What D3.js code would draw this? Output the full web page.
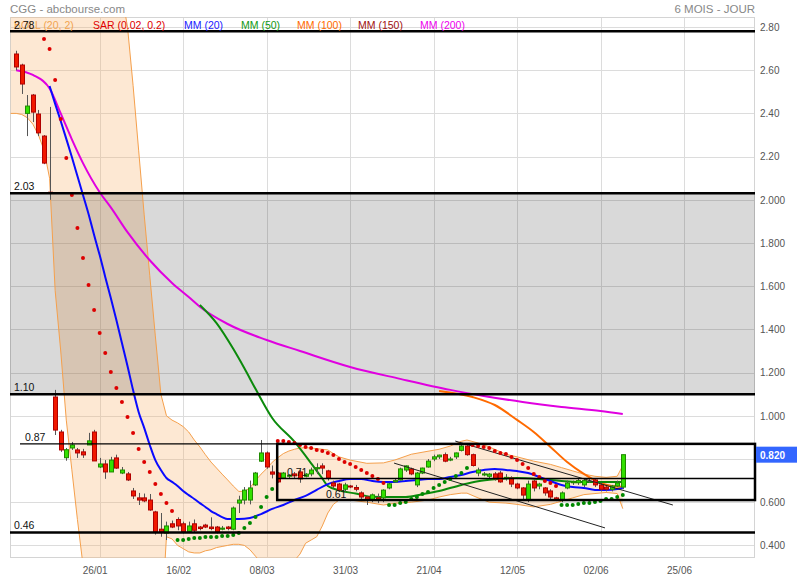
<!DOCTYPE html>
<html><head><meta charset="utf-8">
<script src="https://cdn.jsdelivr.net/npm/d3@7"></script>
<style>body{margin:0;background:#fff}svg{display:block;font-family:"Liberation Sans",Arial,sans-serif}</style>
</head><body><svg id="c" width="800" height="580"></svg>
<script>
// ---------- DATA ----------
const openP  = [2.675,2.624,2.40,2.485,2.397,2.295,2.035,1.087,0.925,0.806,0.851,0.842,0.833,0.865,0.925,0.763,0.777,0.740,0.805,0.735,0.731,0.652,0.62,0.62,0.61,0.555,0.475,0.457,0.50,0.52,0.50,0.465,0.50,0.485,0.494,0.485,0.485,0.475,0.485,0.475,0.596,0.61,0.61,0.68,0.79,0.828,0.74,0.735,0.712,0.72,0.731,0.74,0.72,0.731,0.755,0.768,0.745,0.689,0.684,0.66,0.675,0.668,0.643,0.624,0.61,0.62,0.62,0.666,0.694,0.703,0.749,0.754,0.68,0.735,0.763,0.80,0.81,0.82,0.795,0.81,0.84,0.86,0.82,0.735,0.726,0.72,0.731,0.735,0.71,0.712,0.684,0.666,0.61,0.698,0.675,0.666,0.652,0.62,0.61,0.666,0.69,0.69,0.68,0.70,0.703,0.68,0.67,0.66,0.675,0.67];
const highP  = [2.69,2.63,2.485,2.49,2.416,2.30,2.43,1.12,0.935,0.851,0.879,0.851,0.847,0.921,0.935,0.805,0.795,0.81,0.82,0.763,0.74,0.666,0.643,0.64,0.638,0.56,0.55,0.51,0.515,0.53,0.51,0.51,0.52,0.49,0.50,0.53,0.49,0.49,0.49,0.58,0.63,0.67,0.70,0.74,0.888,0.835,0.77,0.74,0.74,0.73,0.74,0.75,0.735,0.76,0.78,0.78,0.75,0.70,0.69,0.69,0.68,0.68,0.65,0.63,0.64,0.64,0.66,0.69,0.71,0.76,0.77,0.76,0.74,0.76,0.80,0.82,0.82,0.83,0.81,0.83,0.865,0.87,0.825,0.76,0.74,0.735,0.74,0.745,0.73,0.72,0.69,0.67,0.70,0.71,0.69,0.67,0.66,0.625,0.65,0.70,0.70,0.71,0.71,0.71,0.71,0.69,0.68,0.68,0.70,0.82];
const lowP   = [2.60,2.49,2.295,2.36,2.295,2.165,2.00,0.911,0.833,0.792,0.842,0.805,0.805,0.865,0.791,0.758,0.708,0.74,0.754,0.73,0.698,0.615,0.587,0.60,0.56,0.45,0.44,0.425,0.48,0.47,0.455,0.46,0.46,0.47,0.48,0.47,0.455,0.47,0.47,0.47,0.55,0.59,0.59,0.675,0.786,0.755,0.71,0.69,0.71,0.71,0.71,0.69,0.715,0.72,0.73,0.73,0.70,0.665,0.65,0.65,0.665,0.65,0.615,0.587,0.60,0.596,0.60,0.66,0.69,0.70,0.74,0.725,0.67,0.73,0.76,0.79,0.80,0.785,0.79,0.80,0.835,0.815,0.765,0.72,0.72,0.71,0.70,0.69,0.70,0.67,0.66,0.61,0.60,0.65,0.66,0.63,0.61,0.605,0.60,0.66,0.68,0.68,0.67,0.69,0.67,0.65,0.65,0.65,0.67,0.66];
const closeP = [2.615,2.536,2.434,2.406,2.31,2.17,2.03,0.934,0.842,0.843,0.865,0.828,0.819,0.884,0.791,0.777,0.740,0.795,0.758,0.749,0.703,0.629,0.61,0.606,0.564,0.462,0.462,0.49,0.485,0.49,0.462,0.49,0.47,0.478,0.485,0.478,0.462,0.48,0.478,0.573,0.61,0.656,0.666,0.735,0.828,0.763,0.73,0.694,0.735,0.725,0.722,0.708,0.73,0.749,0.76,0.758,0.712,0.675,0.656,0.68,0.672,0.66,0.624,0.61,0.634,0.61,0.656,0.685,0.70,0.754,0.768,0.731,0.735,0.758,0.79,0.81,0.818,0.79,0.80,0.828,0.86,0.82,0.77,0.749,0.731,0.73,0.708,0.694,0.715,0.684,0.666,0.633,0.684,0.666,0.684,0.643,0.624,0.61,0.643,0.689,0.695,0.70,0.70,0.70,0.68,0.66,0.66,0.675,0.689,0.82];

// Parabolic SAR, from day index 5
const sarStart = 5;
const sarValues = [2.744,2.698,2.555,2.374,2.194,2.022,1.869,1.731,1.606,1.49,1.383,1.291,1.203,1.129,1.064,0.994,0.920,0.846,0.786,0.740,0.684,0.638,0.596,0.559,
  0.425,0.425,0.430,0.434,0.434,0.439,0.439,0.439,0.444,0.444,0.448,0.457,0.481,0.504,0.531,0.578,0.624,0.661,
  0.883,0.883,0.879,0.874,0.865,0.856,0.851,0.842,0.837,0.828,0.819,0.800,0.786,0.777,0.763,0.749,0.735,0.721,0.707,0.689,
  0.587,0.587,0.596,0.601,0.615,0.624,0.638,0.647,0.666,0.680,0.694,0.707,0.721,0.735,0.758,
  0.865,0.860,0.856,0.851,0.837,0.828,0.823,0.809,0.795,0.777,0.758,0.731,0.717,0.698,0.689,0.675,
  0.587,0.587,0.587,0.592,0.596,0.596,0.601,0.606,0.615,0.615,0.624,0.633];

// Bollinger (20, 2)
const bbIdx   = [-1,0,1,2,3,4,5,6,7,8,9,10,11,12,13,15,19,20,21,22,23,24,25,26,27,28,29,30,31,32,33,34,35,36,37,38,39,40,41,42,43,44,45,46,47,48,49,50,51,52,53,54,55,56,57,58,60,63,66,68,71,74,76,78,80,81,83,85,88,90,93,96,98,100,102,104,106,108,109];
const bbUpper = [3.05,3.05,3.05,3.05,3.05,3.05,3.05,3.05,3.05,3.05,3.05,3.05,3.05,3.05,3.05,3.05,2.95,2.80,2.53,2.23,1.93,1.65,1.37,1.10,1.00,0.98,0.967,0.95,0.925,0.888,0.856,0.82,0.786,0.758,0.73,0.703,0.675,0.65,0.65,0.666,0.70,0.73,0.755,0.785,0.806,0.825,0.837,0.845,0.851,0.852,0.851,0.848,0.845,0.842,0.825,0.81,0.795,0.78,0.782,0.795,0.822,0.836,0.845,0.86,0.882,0.888,0.874,0.856,0.822,0.81,0.79,0.775,0.76,0.745,0.73,0.72,0.715,0.72,0.77];
const bbLower = [2.40,2.40,2.395,2.38,2.35,2.30,2.23,2.10,1.58,1.30,0.98,0.75,0.52,0.31,0.15,0.0,0.0,0.0,0.0,0.0,0.0,0.0,0.0,0.0,0.44,0.43,0.40,0.385,0.37,0.365,0.365,0.375,0.38,0.39,0.395,0.40,0.405,0.405,0.40,0.38,0.35,0.32,0.30,0.29,0.29,0.30,0.31,0.33,0.36,0.41,0.425,0.44,0.49,0.55,0.59,0.61,0.61,0.60,0.587,0.595,0.60,0.61,0.624,0.635,0.642,0.642,0.62,0.60,0.596,0.59,0.578,0.59,0.605,0.62,0.635,0.64,0.645,0.64,0.57];

// Moving averages
const mm20Idx = [6,7,8,9,10,11,12,13,14,15,16,17,18,19,20,21,22,23,24,25,26,27,28,29,30,31,32,33,34,35,36,37,38,40,42,44,46,48,50,52,54,56,58,60,62,64,66,68,70,72,74,76,78,80,82,84,86,88,90,92,94,96,98,100,102,104,106,108,109];
const mm20Val = [2.527,2.444,2.365,2.282,2.198,2.110,2.022,1.934,1.837,1.744,1.643,1.545,1.444,1.337,1.231,1.119,1.018,0.944,0.865,0.795,0.749,0.712,0.694,0.675,0.652,0.633,0.615,0.596,0.578,0.559,0.545,0.531,0.522,0.522,0.527,0.545,0.569,0.587,0.610,0.629,0.657,0.684,0.698,0.707,0.707,0.698,0.694,0.694,0.698,0.703,0.707,0.707,0.717,0.726,0.740,0.749,0.754,0.749,0.744,0.735,0.717,0.698,0.680,0.670,0.666,0.657,0.657,0.661,0.666];
const mm50Idx = [33,36,39,41,43,46,50,53,55,56,58,61,64,67,70,73,76,80,83,86,90,94,98,101,105,109];
const mm50Val = [1.513,1.429,1.31,1.22,1.125,0.99,0.88,0.78,0.71,0.675,0.655,0.64,0.625,0.624,0.624,0.637,0.652,0.68,0.697,0.706,0.712,0.707,0.698,0.694,0.694,0.694];
const mm100Idx = [76,82,86,90,93,96,99,102,105,107,109];
const mm100Val = [1.115,1.087,1.05,0.981,0.925,0.856,0.786,0.731,0.689,0.675,0.671];
const mm200Idx = [0,3,6,8,10,12,15,17,20,24,28,31,33,38,45,51,60,69,78,84,91,98,105,109];
const mm200Val = [2.60,2.578,2.515,2.40,2.28,2.17,2.035,1.965,1.85,1.72,1.615,1.55,1.505,1.425,1.351,1.30,1.226,1.171,1.12,1.092,1.064,1.041,1.022,1.008];

// Drawn support / resistance levels
const levelVals   = [2.78, 2.03, 1.10, 0.87, 0.71, 0.61, 0.46];
const levelLabels = ["2.78","2.03","1.10","0.87","0.71","0.61","0.46"];
// trend channels: [startIdx, startVal, endIdx, endVal]
const trendLines = [[78.9,0.883,118,0.587],[67.9,0.781,105.8,0.481]];

// Axes
const xTickIdx    = [15,30,45,60,75,90,105,120];
const xTickLabels = ["26/01","16/02","08/03","31/03","21/04","12/05","02/06","25/06"];
const yTickVals   = [2.8,2.6,2.4,2.2,2.0,1.8,1.6,1.4,1.2,1.0,0.8,0.6,0.4];
const yTickLabels = ["2.80","2.60","2.40","2.20","2.000","1.800","1.600","1.400","1.200","1.000","0.800","0.600","0.400"];

const legendNames  = ["BOLL (20, 2)","SAR (0.02, 0.2)","MM (20)","MM (50)","MM (100)","MM (150)","MM (200)"];
const legendColors = ["#f2a450","#e00000","#1a1aff","#119911","#ff6a00","#a01010","#ee00ee"];

// ---------- CHART ----------
const svg = d3.select("#c");
const L = 10, R = 755, T = 17, B = 558;
const x = d3.scaleLinear().domain([0,120]).range([16.2, 684]);
const y = d3.scaleLinear().domain([0.4, 2.8]).range([545.4, 27]);

svg.append("defs").append("clipPath").attr("id","clip")
  .append("rect").attr("x",L).attr("y",T).attr("width",R-L).attr("height",B-T);

// header
svg.append("text").attr("x",10).attr("y",13).attr("font-size",11.5).attr("fill","#888").text("CGG - abcbourse.com");
svg.append("text").attr("x",755).attr("y",13).attr("text-anchor","end").attr("font-size",11.5).attr("fill","#888").text("6 MOIS - JOUR");

// grid
const grid = svg.append("g");
grid.selectAll("line.h").data(yTickVals).join("line")
  .attr("x1",L).attr("x2",R).attr("y1",d=>Math.round(y(d))+0.5).attr("y2",d=>Math.round(y(d))+0.5)
  .attr("stroke","#dcdcdc");
grid.selectAll("line.v").data(xTickIdx).join("line")
  .attr("x1",d=>Math.round(x(d))+0.5).attr("x2",d=>Math.round(x(d))+0.5).attr("y1",T).attr("y2",B)
  .attr("stroke","#dcdcdc");
svg.append("rect").attr("x",L+0.5).attr("y",T+0.5).attr("width",R-L-1).attr("height",B-T-1)
  .attr("fill","none").attr("stroke","#d4d4d4");

const plot = svg.append("g").attr("clip-path","url(#clip)");

// Bollinger fill
const bb = bbIdx.map((d,k)=>({i:d,u:bbUpper[k],l:bbLower[k]}));
plot.append("path").datum(bb)
  .attr("d", d3.area().x(d=>x(d.i)).y0(d=>y(d.l)).y1(d=>y(d.u)))
  .attr("fill","rgba(248,178,110,0.30)");

// gray zone
plot.append("rect").attr("x",L).attr("width",R-L).attr("y",y(2.03)).attr("height",y(1.10)-y(2.03))
  .attr("fill","rgba(0,0,0,0.15)");

// Bollinger lines
const bline = k=>d3.line().x(d=>x(d.i)).y(d=>y(d[k]));
plot.append("path").datum(bb).attr("d",bline("u")).attr("fill","none").attr("stroke","#f5a04c").attr("stroke-width",1);
plot.append("path").datum(bb).attr("d",bline("l")).attr("fill","none").attr("stroke","#f5a04c").attr("stroke-width",1);

// moving averages
function ma(idx, val, color){
  const pts = idx.map((d,k)=>[x(d), y(val[k])]);
  plot.append("path").attr("d", d3.line().curve(d3.curveMonotoneX)(pts))
    .attr("fill","none").attr("stroke",color).attr("stroke-width",2).attr("stroke-linejoin","round");
}
ma(mm200Idx, mm200Val, "#e000e0");
ma(mm100Idx, mm100Val, "#ff6a00");
ma(mm50Idx, mm50Val, "#0b8a0b");
ma(mm20Idx, mm20Val, "#0a0aff");

// candles
const cdl = openP.map((o,i)=>({i,o,h:highP[i],l:lowP[i],c:closeP[i]}));
const cg = plot.append("g");
cg.selectAll("line").data(cdl).join("line")
  .attr("x1",d=>Math.round(x(d.i))+0.5).attr("x2",d=>Math.round(x(d.i))+0.5)
  .attr("y1",d=>y(d.h)).attr("y2",d=>y(d.l)).attr("stroke","#555").attr("stroke-width",1);
cg.selectAll("rect").data(cdl).join("rect")
  .attr("x",d=>Math.round(x(d.i))-1.5).attr("width",4)
  .attr("y",d=>y(Math.max(d.o,d.c)))
  .attr("height",d=>Math.max(1, Math.abs(y(d.o)-y(d.c))))
  .attr("fill",d=>d.c>d.o?"#33e000":d.c<d.o?"#f01800":"#555")
  .attr("stroke",d=>d.c>d.o?"#1f8a00":d.c<d.o?"#b00000":"#555")
  .attr("stroke-width",d=>d.c===d.o?0:1);

// trend lines
plot.selectAll("line.tl").data(trendLines).join("line")
  .attr("x1",d=>x(d[0])).attr("y1",d=>y(d[1])).attr("x2",d=>x(d[2])).attr("y2",d=>y(d[3]))
  .attr("stroke","#222").attr("stroke-width",1);

// levels
const lv = svg.append("g");
const lvl = (v,x1,w)=>lv.append("line").attr("x1",x1).attr("x2",R).attr("y1",y(v)).attr("y2",y(v)).attr("stroke","#000").attr("stroke-width",w);
lvl(levelVals[0], L, 2.5);
lvl(levelVals[1], L, 2.5);
lvl(levelVals[2], L, 2.5);
lvl(levelVals[3], 20, 1.2);
lvl(levelVals[6], L, 2.5);
const boxX = x(46.9);
lv.append("rect").attr("x",boxX).attr("y",y(levelVals[3])).attr("width",R-boxX).attr("height",y(levelVals[5])-y(levelVals[3]))
  .attr("fill","none").attr("stroke","#000").attr("stroke-width",2.5);
lv.append("line").attr("x1",boxX).attr("x2",R).attr("y1",y(levelVals[4])).attr("y2",y(levelVals[4])).attr("stroke","#000").attr("stroke-width",1.5);

// SAR dots
const sar = sarValues.map((v,k)=>({i:sarStart+k, v}));
plot.selectAll("circle.sar").data(sar).join("circle")
  .attr("cx",d=>x(d.i)).attr("cy",d=>y(d.v)).attr("r",2)
  .attr("fill",d=>d.v>closeP[d.i]?"#dd0000":"#008800");

// legend
const lg = svg.append("g").attr("font-size",10.5);
const legX = [14,93,184,241,297,358,420];
legendNames.forEach((n,k)=>lg.append("text").attr("x",legX[k]).attr("y",29).attr("fill",legendColors[k]).text(n));

// level labels
const labPos = [[14,-2],[14,-3],[14,-3],[25,-3],[287,-2],[326,-2],[14,-3]];
levelVals.forEach((v,k)=>svg.append("text").attr("x",labPos[k][0]).attr("y",y(v)+labPos[k][1])
  .attr("font-size",10.5).attr("fill","#111").text(levelLabels[k]));

// last price
const last = closeP[closeP.length-1];

// axes (the tick label hidden behind the last-price tag is left out, as in the original)
const ya = svg.append("g").attr("transform",`translate(${R},0)`)
  .call(d3.axisRight(y).tickValues(yTickVals.filter(v=>Math.abs(y(v)-y(last))>12))
    .tickFormat(d=>yTickLabels[yTickVals.indexOf(d)]).tickSize(0).tickPadding(5));
ya.select(".domain").remove();
ya.selectAll("text").attr("font-size",10).attr("fill","#555").attr("font-family","Liberation Sans, Arial, sans-serif");

const xa = svg.append("g").attr("transform",`translate(0,${B})`)
  .call(d3.axisBottom(x).tickValues(xTickIdx).tickFormat((d,k)=>xTickLabels[k]).tickSize(0).tickPadding(9));
xa.select(".domain").remove();
xa.selectAll("text").attr("font-size",10).attr("fill","#555").attr("dx",-5).attr("font-family","Liberation Sans, Arial, sans-serif");

// last price tag
svg.append("rect").attr("x",756).attr("y",y(last)-8).attr("width",41).attr("height",16).attr("fill","#3366ff");
svg.append("text").attr("x",760).attr("y",y(last)+4).attr("font-size",10).attr("font-weight","bold").attr("fill","#fff").text(last.toFixed(3));
</script></body></html>
